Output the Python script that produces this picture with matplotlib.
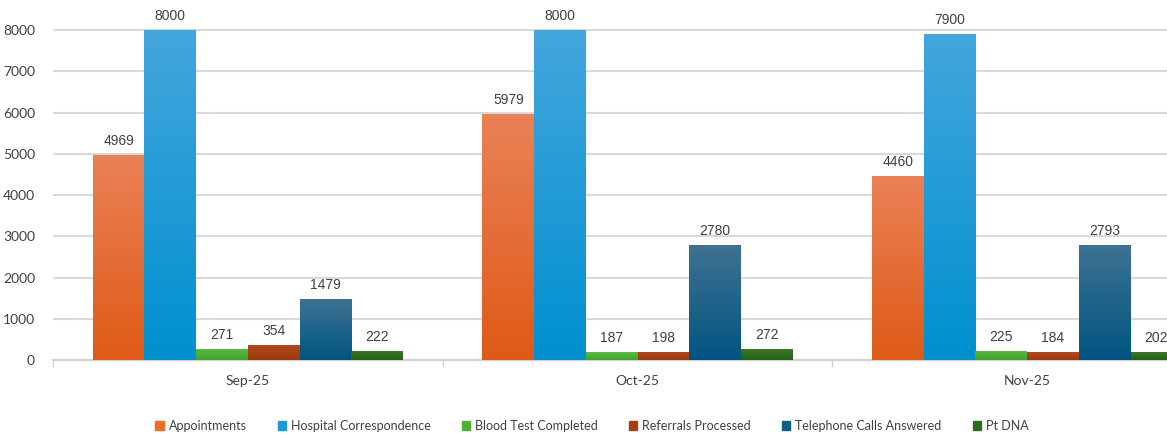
import numpy as np
import matplotlib
matplotlib.use("Agg")
import matplotlib.pyplot as plt
from matplotlib.colors import LinearSegmentedColormap

months = ["Sep-25", "Oct-25", "Nov-25"]
series = ["Appointments", "Hospital Correspondence", "Blood Test Completed",
          "Referrals Processed", "Telephone Calls Answered", "Pt DNA"]
appointments = [4969, 5979, 4460]
hospital = [8000, 8000, 7900]
blood = [271, 187, 225]
referrals = [354, 198, 184]
telephone = [1479, 2780, 2793]
pt_dna = [222, 272, 202]
values = [appointments, hospital, blood, referrals, telephone, pt_dna]

# (top colour, bottom colour) of each series' gradient
colours = [("#ea8157", "#df5a17"),
           ("#44a6dd", "#0090cf"),
           ("#5cba45", "#3fa529"),
           ("#b04a20", "#9c3a0c"),
           ("#3e7293", "#005580"),
           ("#3d7a2c", "#236116")]
legend_colours = ["#ed6d2b", "#1a9ad6", "#4db133", "#a53e12", "#0f5e87", "#2e6b1f"]

fig = plt.figure(figsize=(11.67, 4.36), dpi=100)
ax = fig.add_axes([53 / 1167, 76 / 436, 1169 / 1167, 371 / 436])

x = np.arange(len(months))
w = 0.1326
for i, vals in enumerate(values):
    pos = x + (i - 2.5) * w
    bars = ax.bar(pos, vals, width=w, color=legend_colours[i], label=series[i], zorder=2)
    cmap = LinearSegmentedColormap.from_list("g%d" % i, [colours[i][1], colours[i][0]])
    grad = np.linspace(0, 1, 256).reshape(-1, 1)
    for b, v in zip(bars, vals):
        im = ax.imshow(grad, cmap=cmap, aspect="auto", origin="lower",
                       extent=[b.get_x(), b.get_x() + b.get_width(), 0, v], zorder=3)
        im.set_clip_path(b)
        ax.text(b.get_x() + b.get_width() / 2, v + 170, str(v), ha="center", va="bottom",
                fontsize=10, color="#404040", family="Liberation Sans", zorder=4)

ax.set_xlim(-0.5, 2.5)
ax.set_ylim(0, 9000)
ax.set_yticks(np.arange(0, 8001, 1000))
ax.yaxis.grid(True, color="#d9d9d9", linewidth=1.5, zorder=0)
ax.set_axisbelow(True)
for s in ["top", "right", "left"]:
    ax.spines[s].set_visible(False)
ax.spines["bottom"].set_color("#d0d0d0")
ax.spines["bottom"].set_linewidth(1.5)
ax.tick_params(axis="y", length=0, pad=13, labelsize=10, labelcolor="#404040")
ax.set_xticks(x)
ax.set_xticklabels(months)
ax.tick_params(axis="x", length=0, pad=11, labelsize=10, labelcolor="#404040")
ax.set_xticks([-0.5, 0.5, 1.5, 2.5], minor=True)
ax.tick_params(axis="x", which="minor", length=5, color="#d0d0d0", width=1)
for lab in ax.get_xticklabels() + ax.get_yticklabels():
    lab.set_family("Lato")

handles = [plt.Rectangle((0, 0), 1, 1, color=c) for c in legend_colours]
fig.legend(handles, series, loc="center", bbox_to_anchor=(592 / 1167, 1 - 426 / 436),
           ncol=6, frameon=False, handlelength=0.65, handleheight=0.65, handletextpad=0.4,
           columnspacing=2.5, prop={"family": "Lato", "size": 9},
           labelcolor="#404040")

fig.savefig("out.png", dpi=100)
